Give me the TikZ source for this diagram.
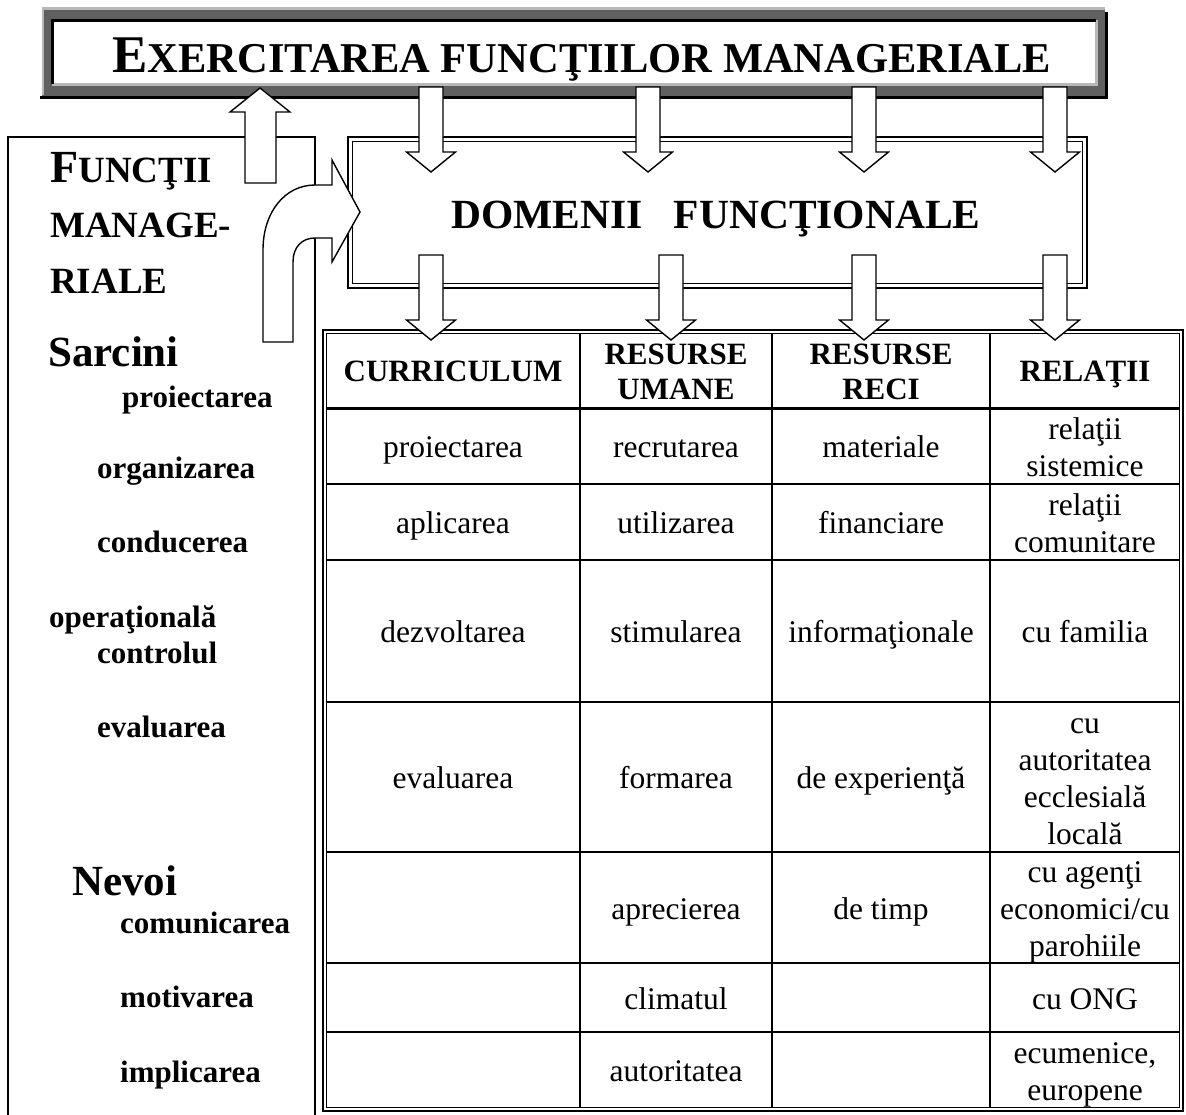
\documentclass[tikz,border=0pt]{standalone}
\usepackage{fontspec}
\setmainfont{Liberation Serif}
\definecolor{frameDark}{HTML}{606060}
\definecolor{frameLight}{HTML}{B8B8B8}
\newcommand\fs[2]{\fontsize{#1}{#2}\selectfont}
\newcommand\cst{\rule[-7pt]{0pt}{37pt}}
\newcommand\hst{\rule[-6.5pt]{0pt}{35pt}}
\tikzset{
  blockarrow/.style={draw=black, line width=1.4pt, fill=white, line join=miter},
  cell/.style={font=\fs{31.5}{37}, align=center, anchor=center, inner sep=0pt},
  headcell/.style={font=\bfseries\fs{31}{35}, align=center, anchor=center, inner sep=0pt},
  sidebig/.style={font=\bfseries\fs{43}{50}, anchor=base west, inner sep=0pt},
  sideitem/.style={font=\bfseries\fs{31}{36}, anchor=base west, inner sep=0pt},
  sidehead/.style={font=\bfseries\fs{37}{42}, anchor=base west, inner sep=0pt},
  rowline/.style={line width=2pt},
  colline/.style={line width=1.5pt},
}
\newcommand\downarrowshape[3]{%
  \draw[blockarrow] (#1-12,#2) -- (#1+12,#2) -- (#1+12,#3-20) -- (#1+24.5,#3-20)
    -- (#1,#3) -- (#1-24.5,#3-20) -- (#1-12,#3-20) -- cycle;}
\begin{document}
\begin{tikzpicture}[x=1pt,y=-1pt]
\useasboundingbox (0,0) rectangle (1186,1114);
\fill[white] (0,0) rectangle (1186,1114);

% ---------- title banner ----------
\fill[frameDark] (42,9) rectangle (1105,96);
\draw[frameLight, line width=2.5pt] (43,95) -- (43,8.5) -- (1105,8.5);
\draw[black, line width=3pt] (40,97.5) -- (1106.5,97.5) -- (1106.5,12);
\fill[white] (52,20) rectangle (1096,84);
\draw[frameLight, line width=3pt] (52,84) -- (1096,84) -- (1096,20);
\draw[black, line width=3pt] (52,84) -- (52,20) -- (1096,20);
\node[anchor=base, inner sep=0pt, font=\bfseries] (title) at (582,72)
  {\fs{53}{60}E\fs{42.5}{50}XERCITAREA FUNCŢIILOR MANAGERIALE};

% ---------- left box ----------
\draw[line width=1.6pt] (8,1118) -- (8,137) -- (315,137) -- (315,1118);
\node[anchor=base west, inner sep=0pt, font=\bfseries] (fh1) at (50,182)
  {\fs{46}{50}F\fs{37}{42}UNCŢII};
\node[sidehead] (fh2) at (50,237) {MANAGE-};
\node[sidehead] (fh3) at (50,293) {RIALE};
\node[sidebig] (sarcini) at (48,366) {Sarcini};
\node[sideitem] (s1) at (122,407) {proiectarea};
\node[sideitem] (s2) at (97,478) {organizarea};
\node[sideitem] (s3) at (97,552) {conducerea};
\node[sideitem] (s4) at (49,627) {operaţională};
\node[sideitem] (s5) at (97,663) {controlul};
\node[sideitem] (s6) at (97,737) {evaluarea};
\node[sidebig] (nevoi) at (72,895) {Nevoi};
\node[sideitem] (n1) at (120,933) {comunicarea};
\node[sideitem] (n2) at (120,1007) {motivarea};
\node[sideitem] (n3) at (120,1082) {implicarea};

% ---------- domenii box ----------
\draw[line width=1.5pt] (348,137) rectangle (1087,288);
\draw[line width=1pt] (352.5,141.5) rectangle (1082.5,283.5);
\node[anchor=base, inner sep=0pt, font=\bfseries\fs{41.5}{48}] (domenii) at (716,228)
  {DOMENII\hspace{0.75em}FUNCŢIONALE};

% ---------- up arrow ----------
\draw[blockarrow] (245,183) -- (245,112) -- (230,112) -- (260,88) -- (290,112)
  -- (276,112) -- (276,183) -- cycle;

% ---------- curved arrow ----------
\draw[blockarrow] (263,342) -- (263,250) .. controls (263,212) and (285,185) .. (315,185)
  -- (332,185) -- (332,160) -- (360,212) -- (332,262) -- (332,238) -- (315,238)
  .. controls (302,238) and (293,247) .. (293,262) -- (293,342) -- cycle;

% ---------- arrows banner -> domenii ----------
\downarrowshape{431}{87}{172}
\downarrowshape{648}{87}{172}
\downarrowshape{864}{87}{172}
\downarrowshape{1055}{87}{172}

% ---------- table ----------
\draw[line width=2pt] (323,330) rectangle (1183,1111);
\draw[line width=1pt] (326.5,333.5) rectangle (1179.5,1107.5);
\draw[line width=3pt] (326,408) -- (1180,408);
\foreach \yy in {484,560,702,852,963,1032} {\draw[rowline] (326,\yy) -- (1180,\yy);}
\foreach \xx in {580,772,990} {\draw[colline] (\xx,333) -- (\xx,1107);}

% header
\node[headcell] (hCur) at (453,370.5) {\hst CURRICULUM};
\node[headcell] (hRU) at (676,370.5) {\hst RESURSE\\\hst UMANE};
\node[headcell] (hRR) at (881,370.5) {\hst RESURSE\\\hst RECI};
\node[headcell] (hRel) at (1085,370.5) {\hst RELAŢII};

% row 1
\node[cell] (c11) at (453,446) {\cst proiectarea};
\node[cell] (c12) at (676,446) {\cst recrutarea};
\node[cell] (c13) at (881,446) {\cst materiale};
\node[cell] (c14) at (1085,446) {\cst relaţii\\\cst sistemice};
% row 2
\node[cell] (c21) at (453,522) {\cst aplicarea};
\node[cell] (c22) at (676,522) {\cst utilizarea};
\node[cell] (c23) at (881,522) {\cst financiare};
\node[cell] (c24) at (1085,522) {\cst relaţii\\\cst comunitare};
% row 3
\node[cell] (c31) at (453,631) {\cst dezvoltarea};
\node[cell] (c32) at (676,631) {\cst stimularea};
\node[cell] (c33) at (881,631) {\cst informaţionale};
\node[cell] (c34) at (1085,631) {\cst cu familia};
% row 4
\node[cell] (c41) at (453,777) {\cst evaluarea};
\node[cell] (c42) at (676,777) {\cst formarea};
\node[cell] (c43) at (881,777) {\cst de experienţă};
\node[cell] (c44) at (1085,777) {\cst cu\\\cst autoritatea\\\cst ecclesială\\\cst locală};
% row 5
\node[cell] (c52) at (676,907.5) {\cst aprecierea};
\node[cell] (c53) at (881,907.5) {\cst de timp};
\node[cell] (c54) at (1085,907.5) {\cst cu agenţi\\\cst economici/cu\\\cst parohiile};
% row 6
\node[cell] (c62) at (676,997.5) {\cst climatul};
\node[cell] (c64) at (1085,997.5) {\cst cu ONG};
% row 7
\node[cell] (c72) at (676,1070) {\cst autoritatea};
\node[cell] (c74) at (1085,1070) {\cst ecumenice,\\\cst europene};

% ---------- arrows domenii -> table ----------
\downarrowshape{431}{255}{340}
\downarrowshape{671}{255}{340}
\downarrowshape{864}{255}{340}
\downarrowshape{1055}{255}{340}
\end{tikzpicture}
\end{document}
